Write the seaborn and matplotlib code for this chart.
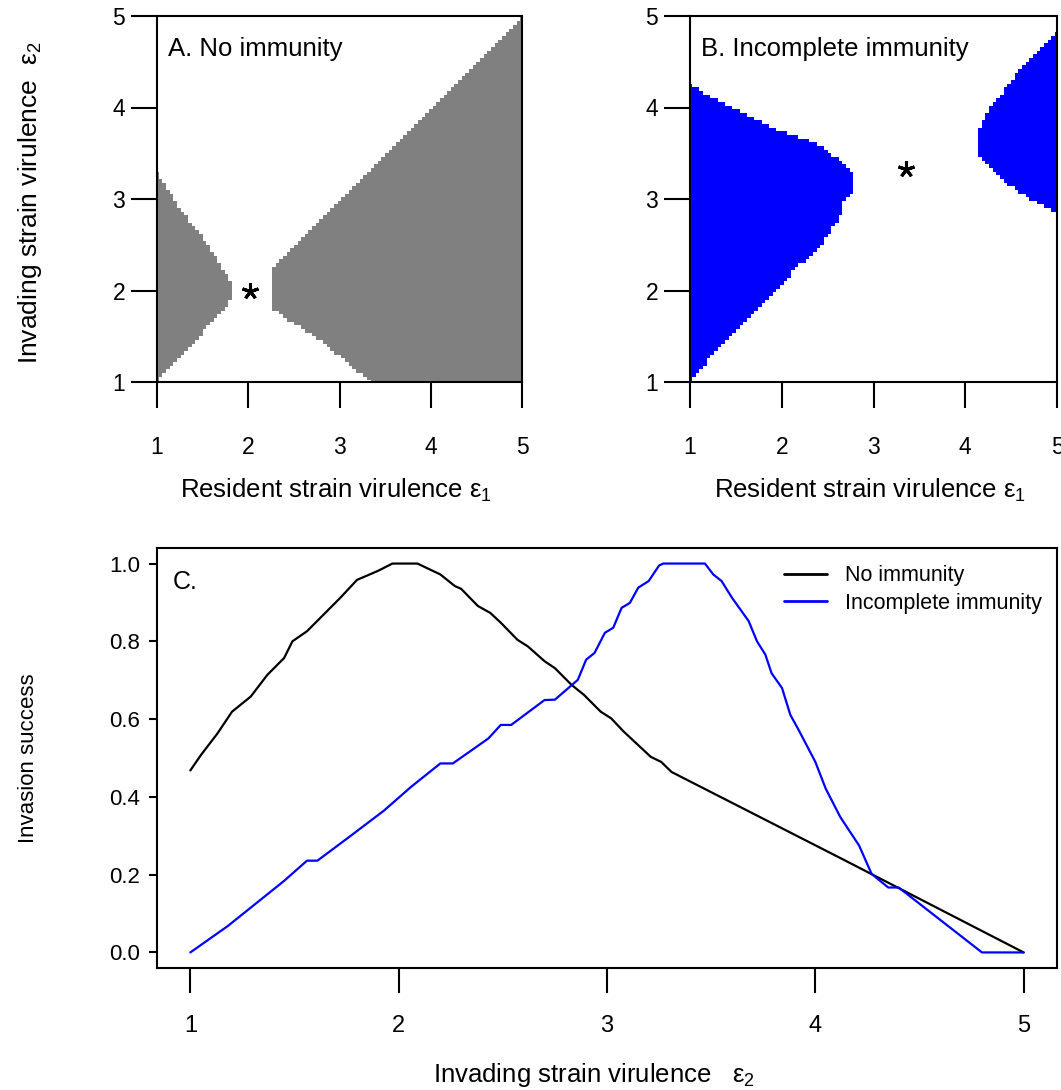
import numpy as np
import pandas as pd
import matplotlib
matplotlib.use("Agg")
import matplotlib.pyplot as plt
from matplotlib.colors import ListedColormap
import seaborn as sns

# ---------------------------------------------------------------------------
# Data
# ---------------------------------------------------------------------------
# Grid of strain virulence values used for the invasion maps
virulence_grid = np.round(np.arange(1.0, 5.0001, 0.04), 2)

# Panel A (no immunity): invasion regions, eps2 bounds as a function of eps1
a_left_eps1 = [1.00, 1.06, 1.28, 1.46, 1.64, 1.77, 1.81]
a_left_low = [1.00, 1.09, 1.31, 1.49, 1.71, 1.85, 1.91]
a_left_high = [3.31, 3.20, 2.85, 2.63, 2.37, 2.15, 2.08]
a_right_eps1 = [2.25, 2.45, 2.74, 2.93, 3.11, 3.33, 4.00, 5.00]
a_right_low = [1.82, 1.67, 1.49, 1.34, 1.20, 1.00, 1.00, 1.00]
a_right_high = [2.23, 2.43, 2.72, 2.91, 3.09, 3.31, 3.97, 5.00]

# Panel B (incomplete immunity): invasion regions
b_left_eps1 = [1.00, 1.25, 1.62, 1.98, 2.17, 2.35, 2.53, 2.64, 2.69, 2.76]
b_left_low = [1.00, 1.31, 1.67, 2.04, 2.26, 2.41, 2.63, 2.82, 3.00, 3.06]
b_left_high = [4.25, 4.10, 3.92, 3.74, 3.68, 3.63, 3.50, 3.42, 3.36, 3.29]
b_right_eps1 = [4.16, 4.21, 4.28, 4.39, 4.53, 4.61, 4.75, 4.97, 5.00]
b_right_low = [3.46, 3.40, 3.33, 3.23, 3.12, 3.07, 2.98, 2.86, 2.85]
b_right_high = [3.77, 3.88, 4.03, 4.14, 4.33, 4.44, 4.58, 4.79, 4.82]

# Singular strategies (resident = invader)
star_a = (2.02, 2.00)
star_b = (3.35, 3.33)

# Panel C: invasion success against invading strain virulence
no_imm_eps2 = [1.00, 1.05, 1.13, 1.20, 1.29, 1.37, 1.45, 1.49, 1.56, 1.64,
               1.72, 1.80, 1.90, 1.97, 2.09, 2.20, 2.27, 2.30, 2.38, 2.44,
               2.49, 2.57, 2.62, 2.70, 2.75, 2.83, 2.89, 2.97, 3.02, 3.08,
               3.15, 3.21, 3.26, 3.31, 4.13, 5.00]
no_imm_success = [0.468, 0.507, 0.563, 0.619, 0.658, 0.714, 0.757, 0.800, 0.826, 0.869,
                  0.912, 0.958, 0.981, 1.000, 1.000, 0.972, 0.942, 0.935, 0.891, 0.873,
                  0.848, 0.804, 0.787, 0.749, 0.731, 0.688, 0.662, 0.619, 0.602, 0.568,
                  0.533, 0.503, 0.490, 0.464, 0.240, 0.000]

inc_imm_eps2 = [1.00, 1.18, 1.45, 1.56, 1.61, 1.77, 1.93, 2.06, 2.20, 2.26,
                2.43, 2.49, 2.54, 2.70, 2.75, 2.86, 2.90, 2.94, 2.99, 3.03,
                3.07, 3.11, 3.15, 3.20, 3.25, 3.27, 3.47, 3.51, 3.55, 3.60,
                3.68, 3.72, 3.76, 3.79, 3.84, 3.88, 3.92, 4.00, 4.05, 4.12,
                4.21, 4.27, 4.35, 4.40, 4.80, 5.00]
inc_imm_success = [0.000, 0.068, 0.184, 0.236, 0.236, 0.300, 0.365, 0.426, 0.486, 0.486,
                   0.550, 0.585, 0.585, 0.649, 0.650, 0.701, 0.753, 0.770, 0.822, 0.835,
                   0.886, 0.899, 0.938, 0.955, 0.995, 1.000, 1.000, 0.972, 0.955, 0.912,
                   0.852, 0.800, 0.766, 0.718, 0.680, 0.611, 0.572, 0.490, 0.421, 0.348,
                   0.275, 0.202, 0.167, 0.167, 0.000, 0.000]

ticks_ab = [1, 2, 3, 4, 5]
ticks_c_x = [1, 2, 3, 4, 5]
ticks_c_y = [0.0, 0.2, 0.4, 0.6, 0.8, 1.0]

# ---------------------------------------------------------------------------
# Style
# ---------------------------------------------------------------------------
sns.set_style("white")
plt.rcParams["font.family"] = ["Liberation Sans", "DejaVu Sans"]
plt.rcParams["mathtext.fontset"] = "custom"
plt.rcParams["mathtext.rm"] = "Liberation Sans"
plt.rcParams["mathtext.it"] = "Liberation Sans"
plt.rcParams["mathtext.default"] = "regular"
plt.rcParams["axes.edgecolor"] = "black"
plt.rcParams["axes.linewidth"] = 1.5
plt.rcParams["xtick.color"] = "black"
plt.rcParams["ytick.color"] = "black"
plt.rcParams["text.color"] = "black"
plt.rcParams["axes.labelcolor"] = "black"

fig = plt.figure(figsize=(10.61, 10.90), dpi=100)
W, H = 1061.0, 1090.0


def add_axes_px(left, top, right, bottom):
    return fig.add_axes([left / W, 1 - bottom / H, (right - left) / W, (bottom - top) / H])


def invasion_mask(regions):
    e1, e2 = np.meshgrid(virulence_grid, virulence_grid)
    mask = np.zeros_like(e1, dtype=float)
    for xs, lo, hi in regions:
        inside = (e1 >= xs[0] - 1e-9) & (e1 <= xs[-1] + 1e-9)
        low = np.interp(e1, xs, lo)
        high = np.interp(e1, xs, hi)
        mask[inside & (e2 >= low - 1e-9) & (e2 <= high + 1e-9)] = 1.0
    return mask


def map_panel(ax, regions, color, title, star):
    mask = invasion_mask(regions)
    ax.pcolormesh(virulence_grid, virulence_grid, mask,
                  cmap=ListedColormap(["white", color]), vmin=0, vmax=1,
                  shading="nearest", rasterized=True)
    ax.plot([star[0]], [star[1]], linestyle="none", marker=(5, 2, 0),
            markersize=12, markeredgewidth=2.2, color="black")
    ax.set_xlim(1, 5)
    ax.set_ylim(1, 5)
    ax.set_xticks(ticks_ab)
    ax.set_yticks(ticks_ab)
    ax.set_xticklabels([str(t) for t in ticks_ab])
    ax.set_yticklabels([str(t) for t in ticks_ab])
    ax.tick_params(axis="x", direction="out", length=19, width=1.5, pad=20, labelsize=16.5,
                   bottom=True)
    ax.tick_params(axis="y", direction="out", length=19, width=1.5, pad=4, labelsize=16.5,
                   left=True)
    for s in ax.spines.values():
        s.set_visible(True)
        s.set_linewidth(1.5)
    ax.text(0.03, 0.91, title, transform=ax.transAxes, fontsize=18.5,
            ha="left", va="center")
    ax.set_xlabel(r"Resident strain virulence ε$_1$", fontsize=18.5)
    ax.xaxis.set_label_coords(0.49, -0.295)
    ax.xaxis.label.set_va("center")


# Panel A
ax_a = add_axes_px(157, 16, 522, 382)
map_panel(ax_a, [(a_left_eps1, a_left_low, a_left_high),
                 (a_right_eps1, a_right_low, a_right_high)],
          "#808080", "A. No immunity", star_a)
ax_a.set_ylabel(r"Invading strain virulence  ε$_2$", fontsize=19)
ax_a.yaxis.set_label_coords(-0.348, 0.49)
ax_a.yaxis.label.set_va("center")

# Panel B
ax_b = add_axes_px(690, 16, 1057, 382)
map_panel(ax_b, [(b_left_eps1, b_left_low, b_left_high),
                 (b_right_eps1, b_right_low, b_right_high)],
          "#0000FF", "B. Incomplete immunity", star_b)

# Panel C
ax_c = add_axes_px(157, 548, 1057, 968)
curves = pd.concat([
    pd.DataFrame({"eps2": no_imm_eps2, "success": no_imm_success, "model": "No immunity"}),
    pd.DataFrame({"eps2": inc_imm_eps2, "success": inc_imm_success, "model": "Incomplete immunity"}),
], ignore_index=True)
sns.lineplot(data=curves, x="eps2", y="success", hue="model", estimator=None,
             sort=False, palette={"No immunity": "black", "Incomplete immunity": "#0000FF"},
             linewidth=1.6, ax=ax_c)
ax_c.set_xlim(0.84, 5.16)
ax_c.set_ylim(-0.04, 1.04)
ax_c.set_xticks(ticks_c_x)
ax_c.set_xticklabels([str(t) for t in ticks_c_x])
ax_c.set_yticks(ticks_c_y)
ax_c.set_yticklabels([f"{t:.1f}" for t in ticks_c_y])
ax_c.tick_params(axis="x", direction="out", length=18, width=1.5, pad=16, labelsize=17,
                 bottom=True)
ax_c.tick_params(axis="y", direction="out", length=6, width=1.5, pad=6, labelsize=16,
                 left=True)
for s in ax_c.spines.values():
    s.set_visible(True)
    s.set_linewidth(1.5)
ax_c.text(0.017, 0.92, "C.", transform=ax_c.transAxes, fontsize=18, ha="left", va="center")
ax_c.set_xlabel(r"Invading strain virulence   ε$_2$", fontsize=18.5)
ax_c.xaxis.set_label_coords(0.485, -0.255)
ax_c.xaxis.label.set_va("center")
ax_c.set_ylabel("Invasion success", fontsize=16)
ax_c.yaxis.set_label_coords(-0.143, 0.5)
ax_c.yaxis.label.set_va("center")
leg = ax_c.legend(loc="upper right", bbox_to_anchor=(0.997, 0.99), frameon=False,
                  fontsize=15.5, handlelength=2.0, handletextpad=0.8, labelspacing=0.3,
                  borderaxespad=0.2)
for line in leg.get_lines():
    line.set_linewidth(2.0)

fig.savefig("out.png", dpi=100, facecolor="white")
